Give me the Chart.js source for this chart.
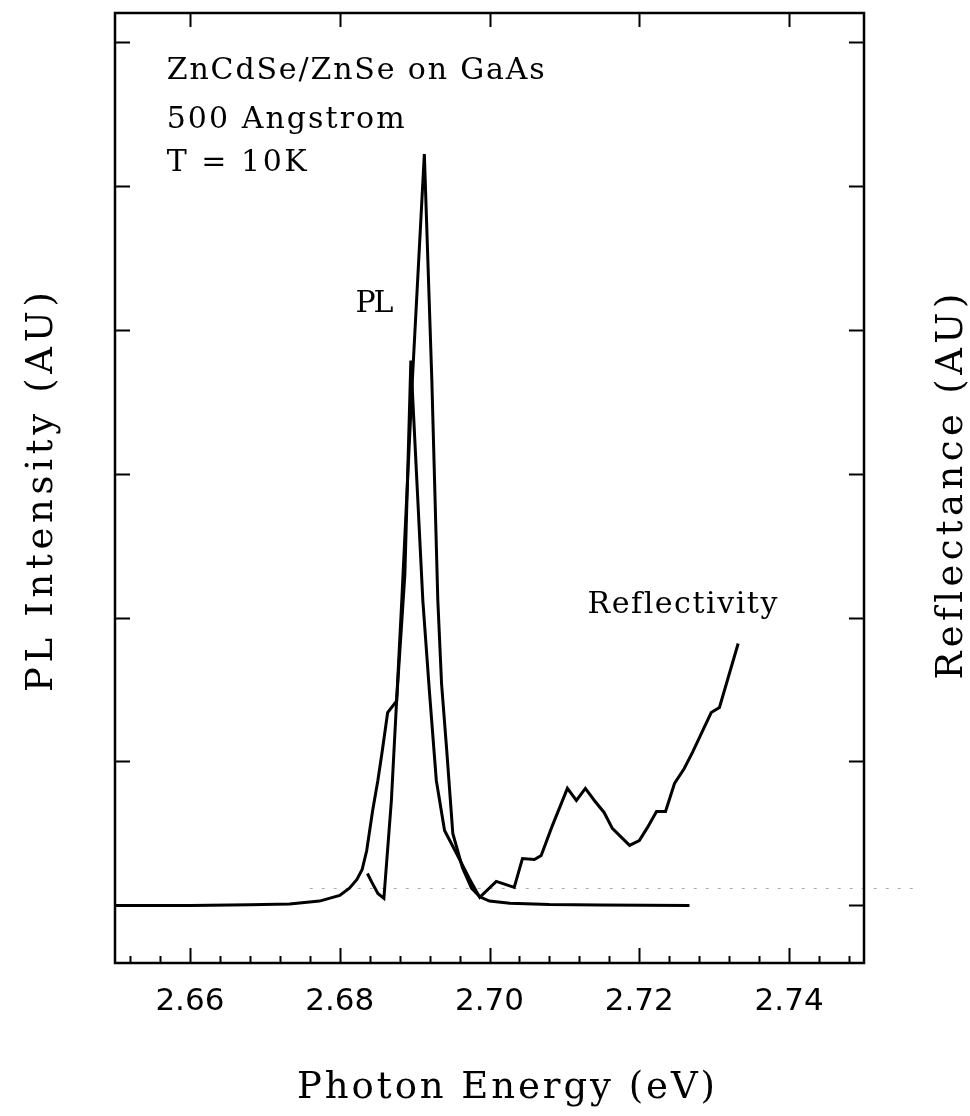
<!DOCTYPE html>
<html>
<head>
<meta charset="utf-8">
<script src="https://cdn.jsdelivr.net/npm/chart.js@4.4.1/dist/chart.umd.min.js"></script>
<style>
  html, body { margin: 0; padding: 0; background: #ffffff; }
  #wrap { width: 970px; height: 1116px; position: relative; }
  canvas { display: block; }
</style>
</head>
<body>
<div id="wrap"><canvas id="c" width="970" height="1116"></canvas></div>
<script>
// ---- data ----
const plEnergy = [2.650, 2.660, 2.668, 2.6733, 2.6773, 2.680, 2.6813, 2.6823, 2.683, 2.6836, 2.6844, 2.6851, 2.6857, 2.6864, 2.6876, 2.6883, 2.6897, 2.6913, 2.6923, 2.6931, 2.6936, 2.6943, 2.6951, 2.6964, 2.6976, 2.6987, 2.700, 2.7027, 2.708, 2.7147, 2.7267];
const plIntensity = [0, 0, 0.005, 0.01, 0.03, 0.07, 0.12, 0.18, 0.25, 0.38, 0.66, 0.87, 1.08, 1.34, 1.42, 2.13, 3.65, 5.22, 3.65, 2.12, 1.54, 1.07, 0.50, 0.26, 0.12, 0.06, 0.03, 0.015, 0.006, 0.003, 0];

const reflEnergy = [2.6837, 2.6843, 2.6851, 2.6859, 2.6869, 2.6876, 2.6887, 2.6895, 2.6903, 2.6911, 2.6920, 2.6929, 2.6940, 2.6956, 2.6973, 2.6987, 2.7009, 2.7033, 2.7044, 2.7060, 2.7069, 2.7083, 2.7104, 2.7116, 2.7128, 2.7140, 2.7153, 2.7164, 2.7187, 2.7200, 2.7211, 2.7223, 2.7235, 2.7247, 2.7260, 2.7271, 2.7296, 2.7307, 2.7332];
const reflValue = [0.222, 0.160, 0.083, 0.049, 0.729, 1.424, 2.30, 3.785, 2.951, 2.118, 1.472, 0.868, 0.521, 0.361, 0.188, 0.056, 0.167, 0.125, 0.326, 0.319, 0.347, 0.542, 0.813, 0.729, 0.813, 0.729, 0.646, 0.535, 0.417, 0.451, 0.542, 0.653, 0.653, 0.847, 0.951, 1.063, 1.340, 1.375, 1.820];

const faintEnergy = [2.6760, 2.7573];
const faintValue = [0.118, 0.118];

const xMajorTicks = [2.66, 2.68, 2.70, 2.72, 2.74];
const xMinorTicks = [2.652, 2.656, 2.664, 2.668, 2.672, 2.676, 2.684, 2.688, 2.692, 2.696, 2.704, 2.708, 2.712, 2.716, 2.724, 2.728, 2.732, 2.736, 2.744, 2.748];
const yTicks = [0, 1, 2, 3, 4, 5, 6];

const annotations = [
  { text: 'ZnCdSe/ZnSe on GaAs', x: 2.6569, y: 5.74, width: 378 },
  { text: '500 Angstrom',        x: 2.6569, y: 5.40, width: 238 },
  { text: 'T = 10K',             x: 2.6569, y: 5.10, width: 140 },
  { text: 'PL',                  x: 2.6821, y: 4.125, width: 38 },
  { text: 'Reflectivity',        x: 2.7131, y: 2.035, width: 189 }
];
const xTitle = 'Photon Energy (eV)';
const yTitle = 'PL Intensity (AU)';
const y2Title = 'Reflectance (AU)';

function toPts(xs, ys) { return xs.map((v, i) => ({ x: v, y: ys[i] })); }

function spacedText(ctx, str, x, y, target, align) {
  const hasLS = ('letterSpacing' in ctx);
  if (hasLS) ctx.letterSpacing = '0px';
  const w = ctx.measureText(str).width;
  let ls = str.length > 1 ? (target - w) / (str.length - 1) : 0;
  ls = Math.max(-3, Math.min(8, ls));
  if (!hasLS) ls = 0;
  if (hasLS) ctx.letterSpacing = ls.toFixed(2) + 'px';
  ctx.textAlign = 'left';
  const total = w + ls * (str.length - 1);
  const x0 = align === 'center' ? x - total / 2 : x;
  ctx.fillText(str, x0, y);
  if (hasLS) ctx.letterSpacing = '0px';
}

const framePlugin = {
  id: 'frame',
  afterDatasetsDraw(chart) {
    const { ctx, chartArea: a, scales } = chart;
    const x = scales.x, y = scales.y;
    ctx.save();
    ctx.strokeStyle = '#000';
    ctx.lineWidth = 2.5;
    ctx.strokeRect(a.left, a.top, a.right - a.left, a.bottom - a.top);
    ctx.lineWidth = 2;
    ctx.beginPath();
    yTicks.forEach(v => {
      const p = Math.round(y.getPixelForValue(v)) + 0.5;
      ctx.moveTo(a.left, p); ctx.lineTo(a.left + 15, p);
      ctx.moveTo(a.right, p); ctx.lineTo(a.right - 15, p);
    });
    xMajorTicks.forEach(v => {
      const p = Math.round(x.getPixelForValue(v)) + 0.5;
      ctx.moveTo(p, a.bottom); ctx.lineTo(p, a.bottom - 15);
      ctx.moveTo(p, a.top); ctx.lineTo(p, a.top + 14);
    });
    xMinorTicks.forEach(v => {
      const p = Math.round(x.getPixelForValue(v)) + 0.5;
      ctx.moveTo(p, a.bottom); ctx.lineTo(p, a.bottom - 7);
    });
    ctx.stroke();

    // annotations
    ctx.fillStyle = '#000';
    ctx.textBaseline = 'alphabetic';
    ctx.font = '30px "DejaVu Serif"';
    annotations.forEach(t => {
      spacedText(ctx, t.text, x.getPixelForValue(t.x), y.getPixelForValue(t.y), t.width, 'left');
    });

    // axis titles
    ctx.font = '37px "DejaVu Serif"';
    spacedText(ctx, xTitle, 506, 1098, 418, 'center');

    ctx.save();
    ctx.translate(52, 492);
    ctx.rotate(-Math.PI / 2);
    spacedText(ctx, yTitle, 0, 0, 400, 'center');
    ctx.restore();

    ctx.save();
    ctx.translate(962, 487);
    ctx.rotate(-Math.PI / 2);
    spacedText(ctx, y2Title, 0, 0, 385, 'center');
    ctx.restore();

    ctx.restore();
  }
};

new Chart(document.getElementById('c'), {
  type: 'line',
  data: {
    datasets: [
      { label: 'PL', data: toPts(plEnergy, plIntensity), borderColor: '#000', borderWidth: 3, pointRadius: 0, tension: 0, fill: false, yAxisID: 'y' },
      { label: 'Reflectivity', data: toPts(reflEnergy, reflValue), borderColor: '#000', borderWidth: 3, pointRadius: 0, tension: 0, fill: false, yAxisID: 'y2' },
      { label: 'baseline', data: toPts(faintEnergy, faintValue), borderColor: 'rgba(0,0,0,0.35)', borderWidth: 1, borderDash: [3, 9], pointRadius: 0, tension: 0, fill: false, yAxisID: 'y', clip: false }
    ]
  },
  options: {
    responsive: false,
    animation: false,
    devicePixelRatio: 1,
    layout: { padding: { left: 0, right: 0, top: 13, bottom: 0 } },
    plugins: { legend: { display: false }, tooltip: { enabled: false } },
    scales: {
      x: {
        type: 'linear', position: 'bottom', min: 2.65, max: 2.75,
        afterBuildTicks: s => { s.ticks = xMajorTicks.map(v => ({ value: v })); },
        afterFit: s => { s.height = 153; },
        grid: { display: false, drawTicks: false },
        border: { display: false },
        ticks: {
          color: '#000', padding: 20, maxRotation: 0, autoSkip: false,
          font: { family: 'DejaVu Sans', size: 31 },
          callback: v => Number(v).toFixed(2)
        }
      },
      y: {
        type: 'linear', position: 'left', min: -0.4, max: 6.2,
        afterFit: s => { s.width = 115; },
        ticks: { display: false }, grid: { display: false }, border: { display: false }
      },
      y2: {
        type: 'linear', position: 'right', min: -0.4, max: 6.2,
        afterFit: s => { s.width = 106; },
        ticks: { display: false }, grid: { display: false }, border: { display: false }
      }
    }
  },
  plugins: [framePlugin]
});
</script>
</body>
</html>
